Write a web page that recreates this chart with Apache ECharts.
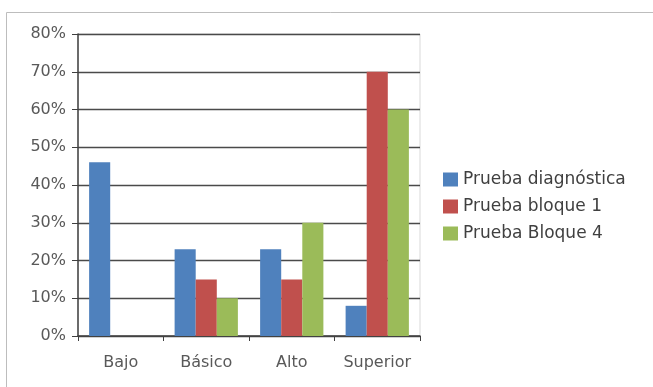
<!DOCTYPE html>
<html>
<head>
    <meta charset="utf-8">
    <title>ECharts</title>
    <script src="https://cdn.jsdelivr.net/npm/echarts@6/dist/echarts.min.js"></script>
    <style>
        body { margin: 0; background: #fff; }
    </style>
</head>
<body>
<div id="main" style="width: 653px;height:387px;"></div>
<script type="text/javascript">
    // datos
    var categorias = ['Bajo', 'Básico', 'Alto', 'Superior'];
    var diagnostica = [46, 23, 23, 8];
    var bloque1 = [0, 15, 15, 70];
    var bloque4 = [0, 10, 30, 60];

    var myChart = echarts.init(document.getElementById('main'));

    myChart.setOption({
        animation: false,
        graphic: [{
            type: 'rect',
            shape: { x: 6.5, y: 12.5, width: 700, height: 400 },
            style: { fill: 'none', stroke: '#bdbdbd', lineWidth: 1 }
        }],
        grid: {
            left: 78,
            right: 233,
            top: 34,
            bottom: 51,
            show: true,
            borderColor: '#d9d9d9',
            borderWidth: 1
        },
        legend: {
            orient: 'vertical',
            left: 438,
            top: 166,
            itemWidth: 15,
            itemHeight: 14,
            itemGap: 10,
            itemTextGap: 5,
            icon: 'rect',
            textStyle: { fontSize: 17, color: '#404040', fontFamily: 'DejaVu Sans' }
        },
        xAxis: {
            type: 'category',
            data: categorias,
            axisLine: { lineStyle: { color: '#404040', width: 1.5 } },
            axisTick: { show: true, length: 5, inside: false, lineStyle: { color: '#404040' } },
            axisLabel: { interval: 0, fontSize: 16, color: '#595959', margin: 19, fontFamily: 'DejaVu Sans' }
        },
        yAxis: {
            type: 'value',
            min: 0,
            max: 80,
            interval: 10,
            axisLine: { show: true, lineStyle: { color: '#404040', width: 1.5 } },
            axisTick: { show: true, length: 6, lineStyle: { color: '#404040' } },
            axisLabel: { fontSize: 16, color: '#595959', margin: 12, fontFamily: 'DejaVu Sans', formatter: '{value}%' },
            splitLine: { lineStyle: { color: '#4a4a4a', width: 1.4 } }
        },
        series: [
            {
                name: 'Prueba diagnóstica',
                type: 'bar',
                data: diagnostica,
                barGap: '0%',
                barCategoryGap: '26%',
                itemStyle: { color: '#4f81bd' }
            },
            {
                name: 'Prueba bloque 1',
                type: 'bar',
                data: bloque1,
                itemStyle: { color: '#c0504d' }
            },
            {
                name: 'Prueba Bloque 4',
                type: 'bar',
                data: bloque4,
                itemStyle: { color: '#9bbb59' }
            }
        ]
    });
</script>
</body>
</html>
